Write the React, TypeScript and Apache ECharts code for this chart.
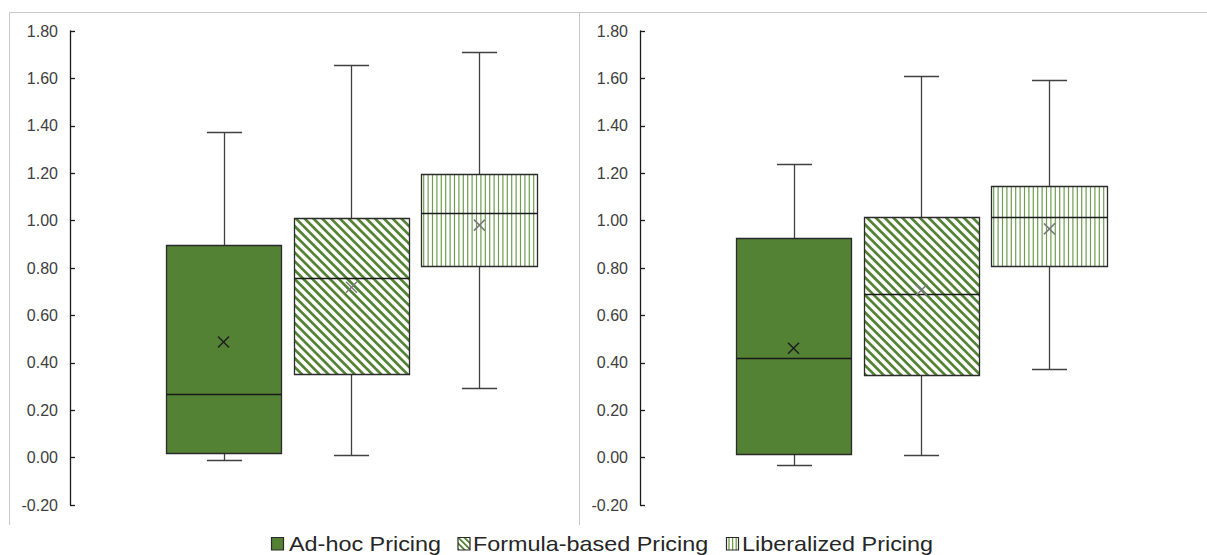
import React, { useEffect, useRef } from 'react';
import * as echarts from 'echarts';

// ---------- data ----------
const CATEGORIES = ['Ad-hoc Pricing', 'Formula-based Pricing', 'Liberalized Pricing'];
const POSITIONS = [1, 2, 3];

const leftMin = [-0.011, 0.01, 0.292];
const leftQ1 = [0.021, 0.354, 0.807];
const leftMedian = [0.27, 0.757, 1.033];
const leftQ3 = [0.896, 1.01, 1.198];
const leftMax = [1.374, 1.656, 1.713];
const leftMean = [0.488, 0.719, 0.981];

const rightMin = [-0.03, 0.01, 0.373];
const rightQ1 = [0.016, 0.349, 0.808];
const rightMedian = [0.422, 0.689, 1.017];
const rightQ3 = [0.925, 1.017, 1.146];
const rightMax = [1.237, 1.61, 1.593];
const rightMean = [0.461, 0.707, 0.965];

const Y_MIN = -0.2;
const Y_MAX = 1.8;
const Y_INTERVAL = 0.2;

// ---------- styles ----------
const FONT = '"Liberation Sans", Arial, sans-serif';
const GREEN = '#548235';
const STRIPE_GREEN = '#6f9c50';
const BOX_HALF = 0.453;
const CAP_HALF = 0.137;

type Pt = [number, number];

function clipHalf(poly: Pt[], f: (p: Pt) => number): Pt[] {
  const out: Pt[] = [];
  for (let i = 0; i < poly.length; i++) {
    const a = poly[i];
    const b = poly[(i + 1) % poly.length];
    const fa = f(a);
    const fb = f(b);
    if (fa >= 0) out.push(a);
    if ((fa >= 0) !== (fb >= 0)) {
      const t = fa / (fa - fb);
      out.push([a[0] + t * (b[0] - a[0]), a[1] + t * (b[1] - a[1])]);
    }
  }
  return out;
}

function diagStripes(x0: number, y0: number, x1: number, y1: number, period: number, thick: number, color: string) {
  const els: any[] = [];
  const rect: Pt[] = [[x0, y0], [x1, y0], [x1, y1], [x0, y1]];
  const cMin = y0 - x1 - period;
  const cMax = y1 - x0;
  const start = Math.floor(cMin / period) * period;
  for (let c = start; c <= cMax; c += period) {
    let poly = clipHalf(rect, (p) => p[1] - p[0] - c);
    poly = clipHalf(poly, (p) => c + thick - (p[1] - p[0]));
    if (poly.length >= 3) {
      els.push({ type: 'polygon', silent: true, shape: { points: poly }, style: { fill: color } });
    }
  }
  return els;
}

function vertStripes(x0: number, y0: number, x1: number, y1: number, period: number, offset: number, width: number, color: string) {
  const els: any[] = [];
  for (let x = x0 + offset; x < x1 - 0.8; x += period) {
    els.push({
      type: 'line',
      silent: true,
      shape: { x1: x, y1: y0, x2: x, y2: y1 },
      style: { stroke: color, lineWidth: width },
    });
  }
  return els;
}

function fillElements(kind: number, x0: number, y0: number, x1: number, y1: number, small: boolean) {
  const els: any[] = [];
  els.push({
    type: 'rect',
    silent: true,
    shape: { x: x0, y: y0, width: x1 - x0, height: y1 - y0 },
    style: { fill: kind === 0 ? GREEN : '#ffffff' },
  });
  if (kind === 1) {
    els.push(...diagStripes(x0, y0, x1, y1, small ? 6 : 8.8, small ? 2.6 : 3.8, GREEN));
  } else if (kind === 2) {
    els.push(...vertStripes(x0, y0, x1, y1, small ? 3.6 : 4.4, small ? 2.5 : 2.2, small ? 1.3 : 1.2, STRIPE_GREEN));
  }
  return els;
}

const crisp = (v: number) => Math.round(v) + 0.5;

function makeRenderItem(kind: number) {
  return (params: any, api: any) => {
    const x = api.value(0);
    const lo = api.value(1);
    const q1 = api.value(2);
    const med = api.value(3);
    const q3 = api.value(4);
    const hi = api.value(5);
    const mean = api.value(6);
    const xl = crisp(api.coord([x - BOX_HALF, q3])[0]);
    const xr = crisp(api.coord([x + BOX_HALF, q3])[0]);
    const xc = crisp(api.coord([x, q3])[0]);
    const ch = api.coord([x + CAP_HALF, q3])[0] - api.coord([x, q3])[0];
    const yq3 = crisp(api.coord([x, q3])[1]);
    const yq1 = crisp(api.coord([x, q1])[1]);
    const ymed = crisp(api.coord([x, med])[1]);
    const yhi = crisp(api.coord([x, hi])[1]);
    const ylo = crisp(api.coord([x, lo])[1]);
    const ymean = api.coord([x, mean])[1];
    const xmean = api.coord([x, mean])[0];
    const wStyle = { stroke: '#404040', lineWidth: 1.3 };
    const children: any[] = [
      { type: 'line', shape: { x1: xc, y1: yhi, x2: xc, y2: yq3 }, style: wStyle },
      { type: 'line', shape: { x1: xc - ch, y1: yhi, x2: xc + ch, y2: yhi }, style: wStyle },
      { type: 'line', shape: { x1: xc, y1: yq1, x2: xc, y2: ylo }, style: wStyle },
      { type: 'line', shape: { x1: xc - ch, y1: ylo, x2: xc + ch, y2: ylo }, style: wStyle },
      ...fillElements(kind, xl, yq3, xr, yq1, false),
      {
        type: 'rect',
        shape: { x: xl, y: yq3, width: xr - xl, height: yq1 - yq3 },
        style: { fill: 'none', stroke: '#2b2b2b', lineWidth: 1.3 },
      },
      { type: 'line', shape: { x1: xl, y1: ymed, x2: xr, y2: ymed }, style: { stroke: '#1a1a1a', lineWidth: 1.3 } },
    ];
    const mColor = kind === 0 ? '#1e1e1e' : '#7a7a7a';
    const s = 5.5;
    children.push(
      { type: 'line', shape: { x1: xmean - s, y1: ymean - s, x2: xmean + s, y2: ymean + s }, style: { stroke: mColor, lineWidth: 1.5 } },
      { type: 'line', shape: { x1: xmean - s, y1: ymean + s, x2: xmean + s, y2: ymean - s }, style: { stroke: mColor, lineWidth: 1.5 } }
    );
    return { type: 'group', children };
  };
}

function buildSeries(panel: number, mins: number[], q1s: number[], meds: number[], q3s: number[], maxs: number[], means: number[]) {
  return CATEGORIES.map((name, i) => ({
    type: 'custom',
    name,
    xAxisIndex: panel,
    yAxisIndex: panel,
    clip: false,
    renderItem: makeRenderItem(i),
    encode: { x: 0, y: [1, 2, 3, 4, 5, 6] },
    data: [[POSITIONS[i], mins[i], q1s[i], meds[i], q3s[i], maxs[i], means[i]]],
  }));
}

function yAxis(grid: number) {
  return {
    type: 'value',
    gridIndex: grid,
    min: Y_MIN,
    max: Y_MAX,
    interval: Y_INTERVAL,
    axisLine: { show: true, onZero: false, lineStyle: { color: '#1a1a1a', width: 1.3 } },
    axisTick: { show: true, inside: true, length: 5, lineStyle: { color: '#1a1a1a', width: 1.3 } },
    splitLine: { show: false },
    axisLabel: {
      margin: 12,
      color: '#404040',
      fontSize: 16,
      fontFamily: FONT,
      formatter: (v: number) => v.toFixed(2),
    },
  };
}

function xAxis(grid: number) {
  return { type: 'value', gridIndex: grid, min: -0.2, max: 3.7, show: false };
}

const LEGEND_ICON_X = [271.5, 458, 726.5];
const LEGEND_TEXT_X = [289, 473, 742];

function legendGraphics() {
  const els: any[] = [];
  CATEGORIES.forEach((name, i) => {
    const x0 = LEGEND_ICON_X[i];
    const y0 = 537.5;
    const w = 12;
    const h = 12.5;
    els.push(...fillElements(i, x0, y0, x0 + w, y0 + h, true));
    els.push({
      type: 'rect',
      silent: true,
      shape: { x: x0, y: y0, width: w, height: h },
      style: { fill: 'none', stroke: '#2b2b2b', lineWidth: 1.2 },
    });
    els.push({
      type: 'text',
      x: LEGEND_TEXT_X[i],
      y: 544,
      scaleX: 1.17,
      silent: true,
      style: { text: name, fontSize: 20, fontFamily: FONT, fill: '#262626', verticalAlign: 'middle', align: 'left' },
    });
  });
  return els;
}

function frameGraphics() {
  const st = { stroke: '#c8c8c8', lineWidth: 1 };
  return [
    { type: 'line', silent: true, shape: { x1: 9.5, y1: 12.5, x2: 1207, y2: 12.5 }, style: st },
    { type: 'line', silent: true, shape: { x1: 9.5, y1: 12.5, x2: 9.5, y2: 525 }, style: st },
    { type: 'line', silent: true, shape: { x1: 579.5, y1: 12.5, x2: 579.5, y2: 525 }, style: st },
  ];
}

export default function App() {
  const ref = useRef<HTMLDivElement>(null);
  useEffect(() => {
    const chart = echarts.init(ref.current!, null, { renderer: 'svg' });
    const option: any = {
      animation: false,
      backgroundColor: '#ffffff',
      grid: [
        { left: 70, top: 31, width: 499, height: 474 },
        { left: 640, top: 31, width: 499, height: 474 },
      ],
      xAxis: [xAxis(0), xAxis(1)],
      yAxis: [yAxis(0), yAxis(1)],
      series: [
        ...buildSeries(0, leftMin, leftQ1, leftMedian, leftQ3, leftMax, leftMean),
        ...buildSeries(1, rightMin, rightQ1, rightMedian, rightQ3, rightMax, rightMean),
      ],
      graphic: [...frameGraphics(), ...legendGraphics()],
    };
    chart.setOption(option);
    return () => chart.dispose();
  }, []);
  return (
    <div
      ref={ref}
      style={{ position: 'fixed', left: 0, top: 0, width: 1207, height: 555, background: '#fff' }}
    />
  );
}
